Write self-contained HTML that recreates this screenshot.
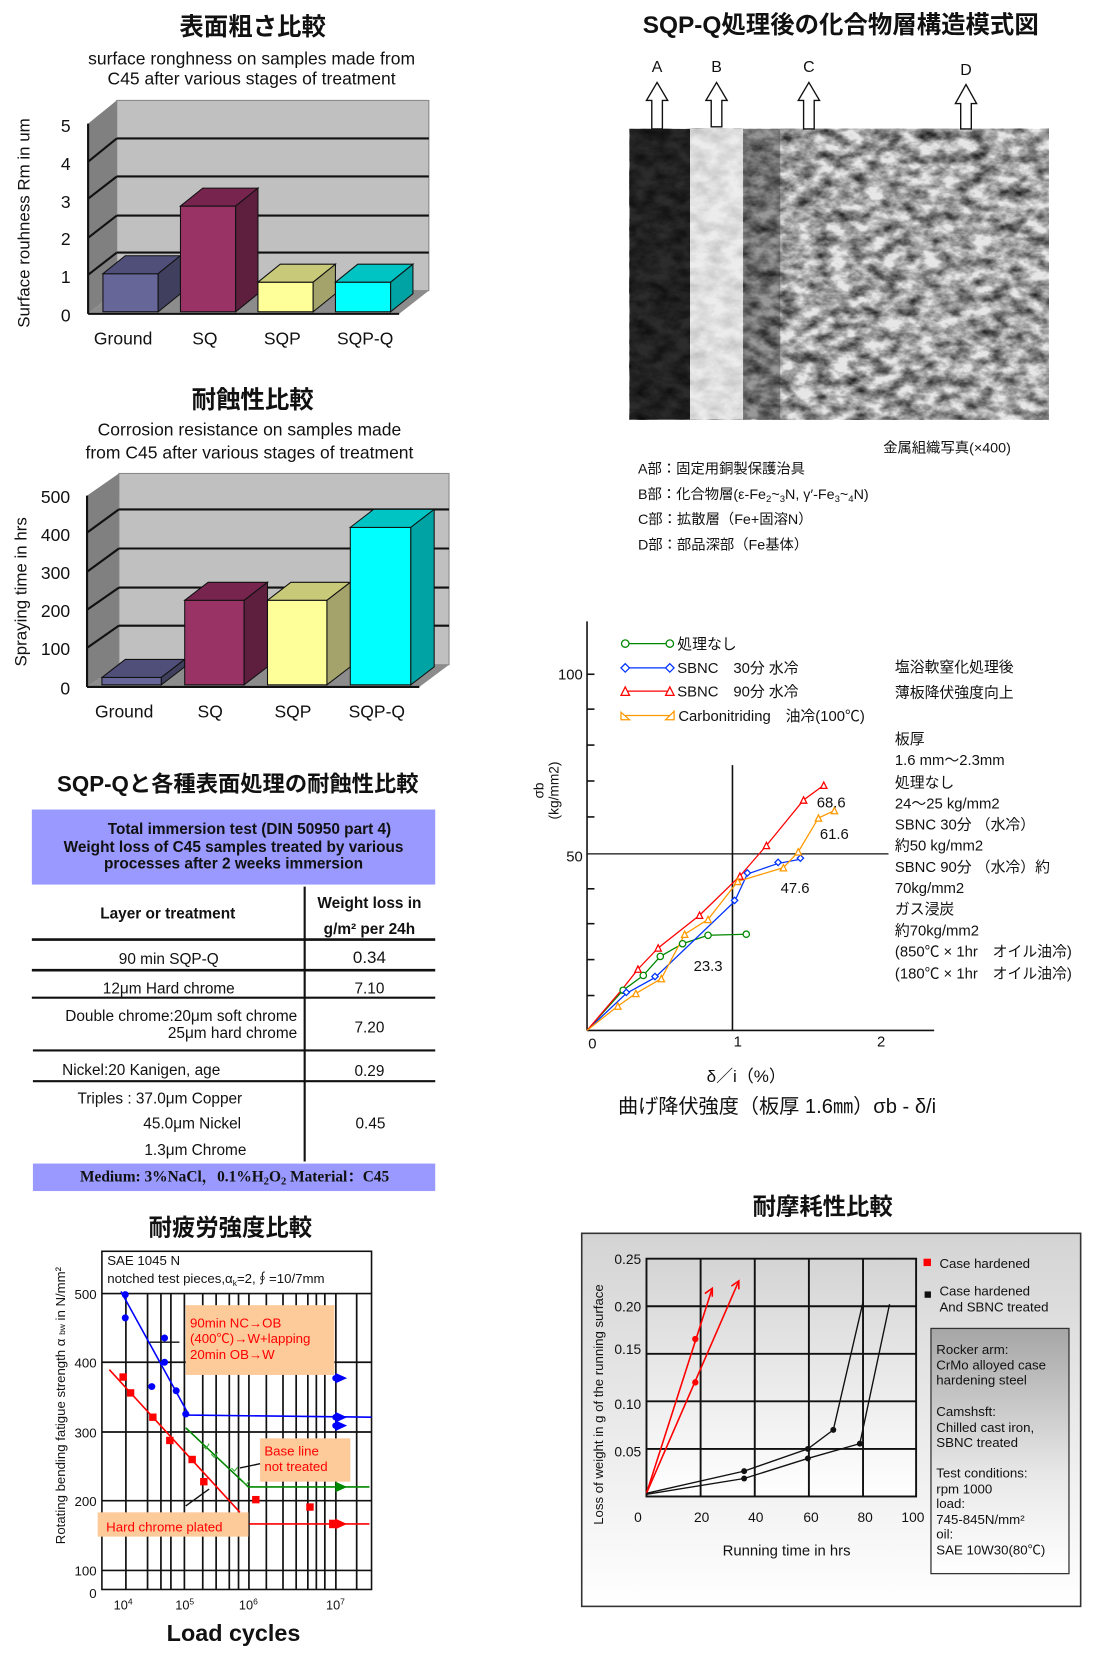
<!DOCTYPE html>
<html><head><meta charset="utf-8"><style>
html,body{margin:0;padding:0;background:#fff;}
svg{display:block;}
text{font-family:"Liberation Sans","Noto Sans CJK JP",sans-serif;fill:#111;}
.b{font-weight:700;}
.c{text-anchor:middle;}
.r{text-anchor:end;}
</style></head><body>
<svg width="1104" height="1655" viewBox="0 0 1040 1566" preserveAspectRatio="none" xmlns="http://www.w3.org/2000/svg">
<defs>
<filter id="tex" x="0" y="0" width="100%" height="100%">
<feTurbulence type="fractalNoise" baseFrequency="0.06 0.09" numOctaves="4" seed="7"/>
<feColorMatrix type="matrix" values="0 0 0 0 0  0 0 0 0 0  0 0 0 0 0  -1.5 0 0 0 1.05"/>
</filter>
<linearGradient id="wg" x1="0" y1="0" x2="0" y2="1"><stop offset="0" stop-color="#d4d4d4"/><stop offset="1" stop-color="#ffffff"/></linearGradient>
<linearGradient id="ig" x1="0" y1="0" x2="0" y2="1"><stop offset="0" stop-color="#a6a6a6"/><stop offset="0.6" stop-color="#e8e8e8"/><stop offset="1" stop-color="#ffffff"/></linearGradient>
</defs>

<!-- ============ Chart 1 ============ -->
<text x="238" y="33" class="b c" font-size="23">表面粗さ比較</text>
<text x="237" y="61" class="c" font-size="16.5">surface ronghness on samples made from</text>
<text x="237" y="80" class="c" font-size="16.5">C45 after various stages of treatment</text>
<rect x="110" y="95" width="294" height="180" fill="#c0c0c0" stroke="#888" stroke-width="1"/>
<polygon points="83,117 110,95 110,275 83,297" fill="#808080"/>
<polygon points="83,297 110,275 404,275 376,297" fill="#8c8c8c"/>
<g stroke="#111" stroke-width="2">
<line x1="110" y1="131" x2="404" y2="131"/><line x1="110" y1="167" x2="404" y2="167"/>
<line x1="110" y1="204" x2="404" y2="204"/><line x1="110" y1="239" x2="404" y2="239"/>
<line x1="83" y1="153" x2="110" y2="131"/><line x1="83" y1="188" x2="110" y2="167"/>
<line x1="83" y1="225" x2="110" y2="204"/><line x1="83" y1="260" x2="110" y2="239"/>
<line x1="83" y1="117" x2="83" y2="297"/><line x1="83" y1="297" x2="376" y2="297"/>
</g>
<g stroke="#111" stroke-width="1">
<rect x="97" y="259" width="52" height="36" fill="#666699"/><polygon points="97,259 118,242 170,242 149,259" fill="#4f4f7a"/><polygon points="149,259 170,242 170,278 149,295" fill="#40405e"/>
<rect x="170" y="195" width="52" height="100" fill="#993366"/><polygon points="170,195 191,178 243,178 222,195" fill="#77254f"/><polygon points="222,195 243,178 243,278 222,295" fill="#5e1f3f"/>
<rect x="243" y="267" width="52" height="28" fill="#ffff99"/><polygon points="243,267 264,250 316,250 295,267" fill="#c9c97a"/><polygon points="295,267 316,250 316,278 295,295" fill="#a3a36b"/>
<rect x="316" y="267" width="52" height="28" fill="#00ffff"/><polygon points="316,267 337,250 389,250 368,267" fill="#00c4c4"/><polygon points="368,267 389,250 389,278 368,295" fill="#00a3a3"/>
</g>
<g font-size="16.5" class="c">
<text x="62" y="125">5</text><text x="62" y="161">4</text><text x="62" y="197">3</text><text x="62" y="232">2</text><text x="62" y="268">1</text><text x="62" y="304">0</text>
<text x="116" y="326">Ground</text><text x="193" y="326">SQ</text><text x="266" y="326">SQP</text><text x="344" y="326">SQP-Q</text>
</g>
<text transform="translate(28,211) rotate(-90)" class="c" font-size="16">Surface rouhness Rm in um</text>

<!-- ============ Chart 2 ============ -->
<text x="238" y="386" class="b c" font-size="23">耐蝕性比較</text>
<text x="235" y="412" class="c" font-size="16.5">Corrosion resistance on samples made</text>
<text x="235" y="434" class="c" font-size="16.5">from C45 after various stages of treatment</text>
<rect x="112" y="448" width="311" height="181" fill="#c0c0c0" stroke="#888" stroke-width="1"/>
<polygon points="82,469 112,448 112,629 82,650" fill="#808080"/>
<polygon points="82,650 112,629 423,629 395,650" fill="#8c8c8c"/>
<g stroke="#111" stroke-width="2">
<line x1="112" y1="482" x2="423" y2="482"/><line x1="112" y1="519" x2="423" y2="519"/>
<line x1="112" y1="556" x2="423" y2="556"/><line x1="112" y1="592" x2="423" y2="592"/>
<line x1="82" y1="504" x2="112" y2="482"/><line x1="82" y1="541" x2="112" y2="519"/>
<line x1="82" y1="577" x2="112" y2="556"/><line x1="82" y1="613" x2="112" y2="592"/>
<line x1="82" y1="469" x2="82" y2="650"/><line x1="82" y1="650" x2="395" y2="650"/>
</g>
<g stroke="#111" stroke-width="1">
<rect x="96" y="641" width="56" height="7" fill="#666699"/><polygon points="96,641 118,624 174,624 152,641" fill="#4f4f7a"/><polygon points="152,641 174,624 174,631 152,648" fill="#40405e"/>
<rect x="174" y="568" width="56" height="80" fill="#993366"/><polygon points="174,568 196,551 252,551 230,568" fill="#77254f"/><polygon points="230,568 252,551 252,631 230,648" fill="#5e1f3f"/>
<rect x="252" y="568" width="56" height="80" fill="#ffff99"/><polygon points="252,568 274,551 330,551 308,568" fill="#c9c97a"/><polygon points="308,568 330,551 330,631 308,648" fill="#a3a36b"/>
<rect x="330" y="499" width="57" height="149" fill="#00ffff"/><polygon points="330,499 352,482 409,482 387,499" fill="#00c4c4"/><polygon points="387,499 409,482 409,631 387,648" fill="#00a3a3"/>
</g>
<g font-size="16.5">
<text x="66" y="476" class="r">500</text><text x="66" y="512" class="r">400</text><text x="66" y="548" class="r">300</text><text x="66" y="584" class="r">200</text><text x="66" y="620" class="r">100</text><text x="66" y="657" class="r">0</text>
<text x="117" y="679" class="c">Ground</text><text x="198" y="679" class="c">SQ</text><text x="276" y="679" class="c">SQP</text><text x="355" y="679" class="c">SQP-Q</text>
</g>
<text transform="translate(25,560) rotate(-90)" class="c" font-size="16">Spraying time in hrs</text>

<!-- ============ Table ============ -->
<text x="224" y="749" class="b c" font-size="21">SQP-Qと各種表面処理の耐蝕性比較</text>
<rect x="30" y="766" width="380" height="71" fill="#9999ff"/>
<g class="b c" font-size="14.5"><text x="235" y="789">Total immersion test (DIN 50950 part 4)</text><text x="220" y="806">Weight loss of C45 samples treated by various</text><text x="220" y="822">processes after 2 weeks immersion</text></g>
<line x1="287" y1="839" x2="287" y2="1099" stroke="#111" stroke-width="2"/>
<g stroke="#111"><line x1="30" y1="889" x2="410" y2="889" stroke-width="2.5"/><line x1="30" y1="918" x2="410" y2="918" stroke-width="2.5"/><line x1="30" y1="944" x2="410" y2="944" stroke-width="2"/><line x1="31" y1="994" x2="410" y2="994" stroke-width="2"/><line x1="31" y1="1023" x2="410" y2="1023" stroke-width="2"/></g>
<g class="b" font-size="14.5"><text x="158" y="869" class="c">Layer or treatment</text><text x="348" y="859" class="c">Weight loss in</text><text x="348" y="884" class="c">g/m² per 24h</text></g>
<g font-size="14.5">
<text x="159" y="912" class="c">90 min SQP-Q</text><text x="348" y="911" class="c" font-size="16">0.34</text>
<text x="159" y="940" class="c">12μm Hard chrome</text><text x="348" y="940" class="c">7.10</text>
<text x="280" y="966" class="r">Double chrome:20μm soft chrome</text><text x="280" y="982" class="r">25μm hard chrome</text><text x="348" y="977" class="c">7.20</text>
<text x="133" y="1017" class="c">Nickel:20 Kanigen, age</text><text x="348" y="1018" class="c">0.29</text>
<text x="73" y="1044">Triples : 37.0μm Copper</text><text x="135" y="1068">45.0μm Nickel</text><text x="136" y="1093">1.3μm Chrome</text><text x="349" y="1068" class="c">0.45</text>
</g>
<rect x="31" y="1101" width="379" height="26" fill="#9999ff"/>
<text x="221" y="1118" class="c" font-size="14.5" font-weight="700" style="font-family:'Liberation Serif','Noto Serif CJK SC',serif">Medium: 3%NaCl，0.1%H<tspan font-size="10" dy="3">2</tspan><tspan dy="-3">O</tspan><tspan font-size="10" dy="3">2</tspan><tspan dy="-3">   Material：C45</tspan></text>

<!-- ============ Fatigue ============ -->
<text x="217" y="1169" class="b c" font-size="22">耐疲労強度比較</text>
<rect x="96" y="1184" width="254" height="320" fill="#fff" stroke="#111" stroke-width="1.5"/>
<g stroke="#111" stroke-width="1.6">
<line x1="96" y1="1224" x2="350" y2="1224"/><line x1="96" y1="1289" x2="350" y2="1289"/><line x1="96" y1="1355" x2="350" y2="1355"/><line x1="96" y1="1420" x2="350" y2="1420"/><line x1="96" y1="1486" x2="350" y2="1486"/>
<line x1="118.6" y1="1224" x2="118.6" y2="1504"/><line x1="139" y1="1224" x2="139" y2="1504"/><line x1="151.6" y1="1224" x2="151.6" y2="1504"/><line x1="161" y1="1224" x2="161" y2="1504"/><line x1="173.7" y1="1224" x2="173.7" y2="1504"/><line x1="191" y1="1224" x2="191" y2="1504"/><line x1="203.6" y1="1224" x2="203.6" y2="1504"/><line x1="216" y1="1224" x2="216" y2="1504"/><line x1="224.7" y1="1224" x2="224.7" y2="1504"/><line x1="234.5" y1="1224" x2="234.5" y2="1504"/><line x1="250.9" y1="1224" x2="250.9" y2="1504"/><line x1="266.6" y1="1224" x2="266.6" y2="1504"/><line x1="279" y1="1224" x2="279" y2="1504"/><line x1="290" y1="1224" x2="290" y2="1504"/><line x1="298" y1="1224" x2="298" y2="1504"/><line x1="306" y1="1224" x2="306" y2="1504"/><line x1="316.4" y1="1224" x2="316.4" y2="1504"/><line x1="336" y1="1224" x2="336" y2="1504"/>
</g>
<rect x="175" y="1235" width="140" height="66" fill="#fdca9a"/>
<rect x="245" y="1361" width="85" height="41" fill="#fdca9a"/>
<rect x="92" y="1431" width="142" height="23" fill="#fdca9a"/>
<g stroke="#111" stroke-width="1.3"><line x1="141" y1="1270" x2="169" y2="1270"/><line x1="226" y1="1389" x2="245" y2="1385"/><line x1="175" y1="1425" x2="197" y2="1409"/></g>
<polyline points="114,1222 178,1339 350,1341" fill="none" stroke="#0000ff" stroke-width="1.5"/>
<polyline points="103,1296 226,1431" fill="none" stroke="#ff0000" stroke-width="1.5"/>
<line x1="235" y1="1442" x2="348" y2="1442" stroke="#ff0000" stroke-width="1.5"/>
<polyline points="175,1351 234,1407 348,1407" fill="none" stroke="#008800" stroke-width="1.5"/>
<g fill="#0000ff"><circle cx="118" cy="1225" r="3.3"/><circle cx="118" cy="1247" r="3.3"/><circle cx="155" cy="1266" r="3.3"/><circle cx="155" cy="1289" r="3.3"/><circle cx="143" cy="1312" r="3.3"/><circle cx="166" cy="1316" r="3.3"/><circle cx="175" cy="1338" r="3.3"/>
<polygon points="316,1299 327,1304 316,1309"/><circle cx="316" cy="1304" r="3"/><polygon points="316,1336 327,1341 316,1346"/><circle cx="316" cy="1341" r="3"/><polygon points="316,1344 327,1349 316,1354"/><circle cx="316" cy="1349" r="3"/></g>
<g fill="#ff0000"><rect x="112.5" y="1299.5" width="7" height="7"/><rect x="119.5" y="1314.5" width="7" height="7"/><rect x="140.5" y="1337.5" width="7" height="7"/><rect x="156.5" y="1359.5" width="7" height="7"/><rect x="177.5" y="1377.5" width="7" height="7"/><rect x="188.5" y="1398.5" width="7" height="7"/><rect x="237.5" y="1415.5" width="7" height="7"/><rect x="288.5" y="1422.5" width="7" height="7"/>
<rect x="310" y="1438" width="7" height="8"/><polygon points="316,1437 327,1442 316,1447"/></g>
<g fill="#008800"><polygon points="316,1402 327,1407 316,1412"/></g>
<g stroke="#33aa33" stroke-width="1" fill="none"><path d="M191 1368 l3 3 l3 -5"/><path d="M199 1376 l3 3 l3 -5"/><path d="M218 1389 l3 3 l3 -4"/><path d="M229 1402 l3 3 l3 -4"/></g>
<g font-size="12.5" fill="#111"><text x="101" y="1197">SAE 1045 N</text><text x="101" y="1214">notched test pieces,α<tspan font-size="8" dy="3">k</tspan><tspan dy="-3">=2,∮=10/7mm</tspan></text></g>
<g font-size="12.5" style="fill:#ff0000"><text x="179" y="1256" style="fill:#ff0000">90min NC→OB</text><text x="179" y="1271" style="fill:#ff0000">(400℃)→W+lapping</text><text x="179" y="1286" style="fill:#ff0000">20min OB→W</text>
<text x="249" y="1377" style="fill:#ff0000">Base line</text><text x="249" y="1392" style="fill:#ff0000">not treated</text><text x="100" y="1449" style="fill:#ff0000">Hard chrome plated</text></g>
<g font-size="12.5" class="r"><text x="91" y="1229">500</text><text x="91" y="1294">400</text><text x="91" y="1360">300</text><text x="91" y="1425">200</text><text x="91" y="1491">100</text><text x="91" y="1512">0</text></g>
<g font-size="12" class="c"><text x="116" y="1523">10<tspan font-size="8" dy="-5">4</tspan></text><text x="174" y="1523">10<tspan font-size="8" dy="-5">5</tspan></text><text x="234" y="1523">10<tspan font-size="8" dy="-5">6</tspan></text><text x="316" y="1523">10<tspan font-size="8" dy="-5">7</tspan></text></g>
<text x="220" y="1553" class="b c" font-size="22">Load cycles</text>
<text transform="translate(61,1330) rotate(-90)" class="c" font-size="12.5">Rotating bending fatigue strength α <tspan font-size="8">bw</tspan> in N/mm²</text>

<!-- ============ Micrograph ============ -->
<text x="792" y="31" class="b c" font-size="23">SQP-Q処理後の化合物層構造模式図</text>
<rect x="593" y="122" width="395" height="275" fill="#e6e6e6"/>
<rect x="593" y="122" width="395" height="275" filter="url(#tex)"/>
<rect x="593" y="122" width="57" height="275" fill="#0a0a0a" opacity="0.85"/>
<rect x="650" y="122" width="50" height="275" fill="#eeeeee" opacity="0.8"/>
<rect x="700" y="122" width="35" height="275" fill="#222" opacity="0.4"/>
<g font-size="15" class="c" style="font-family:'Liberation Serif',serif"><text x="619" y="68">A</text><text x="675" y="68">B</text><text x="762" y="68">C</text><text x="910" y="71">D</text></g>
<g fill="#fff" stroke="#111" stroke-width="1.3">
<polygon points="614,122 614,95 609,95 619,78 629,95 624,95 624,122"/>
<polygon points="670,120 670,95 665,95 675,78 685,95 680,95 680,120"/>
<polygon points="757,122 757,95 752,95 762,78 772,95 767,95 767,122"/>
<polygon points="905,122 905,98 900,98 910,80 920,98 915,98 915,122"/>
</g>
<g font-size="13.5"><text x="832" y="428">金属組織写真(×400)</text>
<text x="601" y="448">A部：固定用銅製保護治具</text>
<text x="601" y="472">B部：化合物層(ε-Fe<tspan font-size="9" dy="3">2</tspan><tspan dy="-3">~</tspan><tspan font-size="9" dy="3">3</tspan><tspan dy="-3">N, γ′-Fe</tspan><tspan font-size="9" dy="3">3</tspan><tspan dy="-3">~</tspan><tspan font-size="9" dy="3">4</tspan><tspan dy="-3">N)</tspan></text>
<text x="601" y="496">C部：拡散層（Fe+固溶N）</text>
<text x="601" y="520">D部：部品深部（Fe基体）</text></g>

<!-- ============ Bending chart ============ -->
<g stroke="#111" stroke-width="1.5">
<line x1="553" y1="588" x2="553" y2="975"/><line x1="553" y1="975" x2="880" y2="975"/>
<line x1="690" y1="724" x2="690" y2="975"/><line x1="553" y1="808" x2="837" y2="808" stroke-width="1.2"/>
<line x1="553" y1="638" x2="560" y2="638"/><line x1="553" y1="671" x2="560" y2="671"/><line x1="553" y1="705" x2="560" y2="705"/><line x1="553" y1="739" x2="560" y2="739"/><line x1="553" y1="773" x2="560" y2="773"/><line x1="553" y1="841" x2="560" y2="841"/><line x1="553" y1="874" x2="560" y2="874"/><line x1="553" y1="908" x2="560" y2="908"/><line x1="553" y1="942" x2="560" y2="942"/>
</g>
<g font-size="14"><text x="549" y="643" class="r">100</text><text x="549" y="815" class="r">50</text><text x="558" y="992" class="c">0</text><text x="695" y="990" class="c">1</text><text x="830" y="990" class="c">2</text></g>
<g fill="none" stroke-width="1.2">
<polyline stroke="#008800" points="553,975 587,937 606,923 622,905 643,893 667,885 703,884"/>
<polyline stroke="#0033ff" points="553,975 590,940 617,925 692,853 704,827 733,817 754,813"/>
<polyline stroke="#ff0000" points="553,975 587,935 601,917 620,897 659,866 697,829 722,800 757,757 776,743"/>
<polyline stroke="#ff9900" points="553,975 582,952 599,940 623,926 645,884 667,870 695,834 738,821 752,806 771,774 786,767"/>
<line stroke="#008800" x1="589" y1="609" x2="631" y2="609"/><line stroke="#0033ff" x1="589" y1="632" x2="631" y2="632"/><line stroke="#ff0000" x1="589" y1="654" x2="631" y2="654"/><line stroke="#ff9900" x1="589" y1="677" x2="631" y2="677"/>
</g>
<g fill="#fff" stroke="#008800" stroke-width="1.2"><circle cx="589" cy="609" r="3.5"/><circle cx="631" cy="609" r="3.5"/><circle cx="587" cy="937" r="3"/><circle cx="606" cy="923" r="3"/><circle cx="622" cy="905" r="3"/><circle cx="643" cy="893" r="3"/><circle cx="667" cy="885" r="3"/><circle cx="703" cy="884" r="3"/></g>
<g fill="#fff" stroke="#0033ff" stroke-width="1.2"><path d="M589 628 l4 4 l-4 4 l-4 -4z"/><path d="M631 628 l4 4 l-4 4 l-4 -4z"/><path d="M590 936 l3 3 l-3 3 l-3 -3z"/><path d="M617 921 l3 3 l-3 3 l-3 -3z"/><path d="M692 849 l3 3 l-3 3 l-3 -3z"/><path d="M704 823 l3 3 l-3 3 l-3 -3z"/><path d="M733 813 l3 3 l-3 3 l-3 -3z"/><path d="M754 809 l3 3 l-3 3 l-3 -3z"/></g>
<g fill="#fff" stroke="#ff0000" stroke-width="1.2"><path d="M585 658 l4 -8 l4 8z"/><path d="M627 658 l4 -8 l4 8z"/><path d="M598 920 l3 -6 l3 6z"/><path d="M617 900 l3 -6 l3 6z"/><path d="M656 869 l3 -6 l3 6z"/><path d="M694 832 l3 -6 l3 6z"/><path d="M719 803 l3 -6 l3 6z"/><path d="M754 760 l3 -6 l3 6z"/><path d="M773 746 l3 -6 l3 6z"/></g>
<g fill="#fff" stroke="#ff9900" stroke-width="1.2"><path d="M585 681 l8 0 l-8 -7z"/><path d="M627 681 l8 0 l0 -8z"/><path d="M579 955 l3 -6 l3 6z"/><path d="M596 943 l3 -6 l3 6z"/><path d="M620 929 l3 -6 l3 6z"/><path d="M642 887 l3 -6 l3 6z"/><path d="M664 873 l3 -6 l3 6z"/><path d="M692 837 l3 -6 l3 6z"/><path d="M735 824 l3 -6 l3 6z"/><path d="M749 809 l3 -6 l3 6z"/><path d="M768 777 l3 -6 l3 6z"/><path d="M783 770 l3 -6 l3 6z"/></g>
<g font-size="14"><text x="638" y="614">処理なし</text><text x="638" y="637">SBNC　30分 水冷</text><text x="638" y="659">SBNC　90分 水冷</text><text x="639" y="682">Carbonitriding　油冷(100℃)</text>
<text x="783" y="764" class="c">68.6</text><text x="786" y="794" class="c">61.6</text><text x="749" y="845" class="c">47.6</text><text x="667" y="919" class="c">23.3</text>
<text x="703" y="1024" class="c" font-size="16">δ／i（%）</text></g>
<text x="732" y="1053" class="c" font-size="19">曲げ降伏強度（板厚 1.6㎜）σb - δ/i</text>
<text transform="translate(512,748) rotate(-90)" class="c" font-size="13">σb</text>
<text transform="translate(526,748) rotate(-90)" class="c" font-size="13">(kg/mm2)</text>
<g font-size="14"><text x="843" y="636">塩浴軟窒化処理後</text><text x="843" y="660">薄板降伏強度向上</text><text x="843" y="704">板厚</text><text x="843" y="724">1.6 mm～2.3mm</text><text x="843" y="745">処理なし</text><text x="843" y="765">24～25 kg/mm2</text><text x="843" y="785">SBNC 30分 （水冷）</text><text x="843" y="805">約50 kg/mm2</text><text x="843" y="825">SBNC 90分 （水冷）約</text><text x="843" y="845">70kg/mm2</text><text x="843" y="865">ガス浸炭</text><text x="843" y="885">約70kg/mm2</text><text x="843" y="905">(850℃ × 1hr　オイル油冷)</text><text x="843" y="926">(180℃ × 1hr　オイル油冷)</text></g>

<!-- ============ Wear ============ -->
<text x="775" y="1149" class="b c" font-size="22">耐摩耗性比較</text>
<rect x="548" y="1167" width="470" height="353" fill="url(#wg)" stroke="#333" stroke-width="1.5"/>
<rect x="609" y="1191" width="254" height="225" fill="url(#wg)" stroke="#111" stroke-width="1.8"/>
<g stroke="#111" stroke-width="1.8"><line x1="660" y1="1191" x2="660" y2="1416"/><line x1="711" y1="1191" x2="711" y2="1416"/><line x1="762" y1="1191" x2="762" y2="1416"/><line x1="813" y1="1191" x2="813" y2="1416"/>
<line x1="609" y1="1236" x2="863" y2="1236"/><line x1="609" y1="1281" x2="863" y2="1281"/><line x1="609" y1="1326" x2="863" y2="1326"/><line x1="609" y1="1371" x2="863" y2="1371"/></g>
<g stroke="#ff0000" stroke-width="1.5" fill="none"><line x1="609" y1="1413" x2="671" y2="1219"/><line x1="609" y1="1413" x2="696" y2="1212"/><path d="M664 1224 l7 -5 l0 8"/><path d="M689 1217 l7 -5 l0 8"/></g>
<g fill="#ff0000"><circle cx="655" cy="1267" r="3"/><circle cx="655" cy="1308" r="3"/></g>
<g stroke="#111" stroke-width="1.3" fill="none"><polyline points="609,1413 701,1392 761,1371 785,1353 813,1232"/><polyline points="609,1414 701,1399 761,1380 810,1366 838,1234"/></g>
<g fill="#111"><circle cx="701" cy="1392" r="2.8"/><circle cx="761" cy="1371" r="2.8"/><circle cx="785" cy="1353" r="2.8"/><circle cx="701" cy="1399" r="2.8"/><circle cx="761" cy="1380" r="2.8"/><circle cx="810" cy="1366" r="2.8"/></g>
<g font-size="13"><text x="604" y="1196" class="r">0.25</text><text x="604" y="1241" class="r">0.20</text><text x="604" y="1281" class="r">0.15</text><text x="604" y="1333" class="r">0.10</text><text x="604" y="1378" class="r">0.05</text>
<text x="601" y="1440" class="c">0</text><text x="661" y="1440" class="c">20</text><text x="712" y="1440" class="c">40</text><text x="764" y="1440" class="c">60</text><text x="815" y="1440" class="c">80</text><text x="860" y="1440" class="c">100</text>
<text x="741" y="1472" class="c" font-size="14">Running  time in hrs</text></g>
<text transform="translate(568,1329) rotate(-90)" class="c" font-size="12.5">Loss of weight in g of the running surface</text>
<rect x="870" y="1191" width="7" height="7" fill="#ff0000"/><rect x="871" y="1222" width="6" height="6" fill="#111"/>
<g font-size="12.5"><text x="885" y="1200">Case hardened</text><text x="885" y="1226">Case hardened</text><text x="885" y="1241">And SBNC treated</text></g>
<rect x="877" y="1257" width="130" height="232" fill="url(#ig)" stroke="#333" stroke-width="1.2"/>
<g font-size="12.5"><text x="882" y="1281">Rocker arm:</text><text x="882" y="1296">CrMo alloyed case</text><text x="882" y="1310">hardening steel</text><text x="882" y="1340">Camshsft:</text><text x="882" y="1355">Chilled cast iron,</text><text x="882" y="1369">SBNC treated</text><text x="882" y="1398">Test conditions:</text><text x="882" y="1413">rpm 1000</text><text x="882" y="1427">load:</text><text x="882" y="1442">745-845N/mm²</text><text x="882" y="1456">oil:</text><text x="882" y="1471">SAE 10W30(80℃)</text></g>
</svg>
</body></html>
